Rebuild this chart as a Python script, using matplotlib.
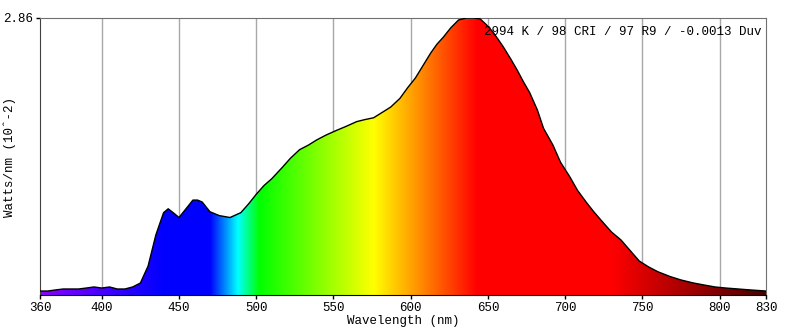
import numpy as np
import matplotlib.pyplot as plt
from matplotlib.patches import Polygon

# spectrum (wavelength nm, Watts/nm x 1e-2)
wavelength = [360, 365, 370, 375, 380, 385, 390, 395, 400, 405, 410, 415, 420, 425,
              430, 435, 440, 443, 447, 450, 454, 459, 462, 465, 470, 476, 483, 490, 495,
              500, 505, 510, 517, 522, 528, 534, 539, 545, 552, 558, 565, 570, 576,
              580, 587, 593, 598, 603, 608, 613, 617, 621, 626, 631, 636, 641, 645,
              649, 653, 657, 660, 665, 669, 673, 677, 682, 686, 692, 697, 703, 708,
              714, 719, 725, 730, 736, 742, 748, 754, 760, 768, 775, 783, 790, 797,
              804, 812, 820, 830]
power = [0.041, 0.041, 0.052, 0.062, 0.062, 0.062, 0.072, 0.083, 0.072, 0.083, 0.062,
         0.062, 0.083, 0.124, 0.30, 0.62, 0.85, 0.89, 0.84, 0.80, 0.88, 0.98, 0.98, 0.96,
         0.86, 0.82, 0.80, 0.85, 0.94, 1.04, 1.13, 1.20, 1.32, 1.41, 1.50, 1.55, 1.60,
         1.65, 1.70, 1.74, 1.79, 1.81, 1.83, 1.87, 1.94, 2.03, 2.14, 2.24, 2.37, 2.50,
         2.59, 2.66, 2.76, 2.84, 2.86, 2.86, 2.85, 2.79, 2.72, 2.63, 2.56, 2.43, 2.32,
         2.20, 2.09, 1.91, 1.72, 1.55, 1.37, 1.22, 1.08, 0.95, 0.85, 0.74, 0.65, 0.57,
         0.46, 0.35, 0.29, 0.24, 0.19, 0.155, 0.124, 0.103, 0.083, 0.072, 0.062,
         0.052, 0.041]

xticks = [360, 400, 450, 500, 550, 600, 650, 700, 750, 800, 830]
grid_x = [400, 450, 500, 550, 600, 650, 700, 750, 800]
ymax = 2.86
info = "2994 K / 98 CRI / 97 R9 / -0.0013 Duv"


def wl_rgb(w):
    if w < 440:
        r, g, b = 0.55 * (440 - w) / 80, 0.0, 1.0
    elif w < 470:
        r, g, b = 0.0, 0.0, 1.0
    elif w < 488:
        r, g, b = 0.0, (w - 470) / 18, 1.0
    elif w < 502:
        r, g, b = 0.0, 1.0, (502 - w) / 14
    elif w < 576:
        r, g, b = (w - 502) / 74, 1.0, 0.0
    elif w < 643:
        r, g, b = 1.0, (643 - w) / 67, 0.0
    else:
        r, g, b = 1.0, 0.0, 0.0
    f = 1.0
    if w > 730:
        f = 1 - 0.72 * (w - 730) / 100
    return [r * f, g * f, b * f]


plt.rcParams['font.family'] = ['Liberation Mono', 'DejaVu Sans Mono']

fig = plt.figure(figsize=(7.95, 3.34), dpi=100)
ax = fig.add_axes([40 / 795, 39 / 334, 726 / 795, 277 / 334])

# info text is printed over the spectrum
ax.text(0.994, 0.95, info, transform=ax.transAxes, ha='right', va='center',
        fontsize=9, zorder=5)

for gx in grid_x:
    ax.axvline(gx, color='#a8a8a8', linewidth=1, zorder=1)

ws = np.linspace(360, 830, 940)
grad = np.array([wl_rgb(w) for w in ws])[np.newaxis, :, :]
im = ax.imshow(grad, extent=[360, 830, 0, ymax], aspect='auto', zorder=2,
               interpolation='bilinear')
verts = [(360, 0)] + list(zip(wavelength, power)) + [(830, 0)]
poly = Polygon(verts, closed=True, facecolor='none', edgecolor='none')
ax.add_patch(poly)
im.set_clip_path(poly)

ax.plot(wavelength, power, color='black', linewidth=1, zorder=3)

ax.set_xlim(360, 830)
ax.set_ylim(0, ymax)
ax.set_xticks(xticks)
ax.set_yticks([ymax])
ax.set_yticklabels(['2.86'])
ax.tick_params(axis='both', direction='out', length=3, width=1, labelsize=9, pad=2)
ax.set_xlabel('Wavelength (nm)', fontsize=9, labelpad=1)
fig.text(10 / 795, 1 - 157 / 334, 'Watts/nm (10ˆ-2)', rotation=90, fontsize=9,
         ha='center', va='center')

ax.spines['left'].set_color('#404040')
ax.spines['bottom'].set_color('black')
ax.spines['top'].set_color('#707070')
ax.spines['right'].set_color('#707070')

fig.savefig('out.png', dpi=100)
